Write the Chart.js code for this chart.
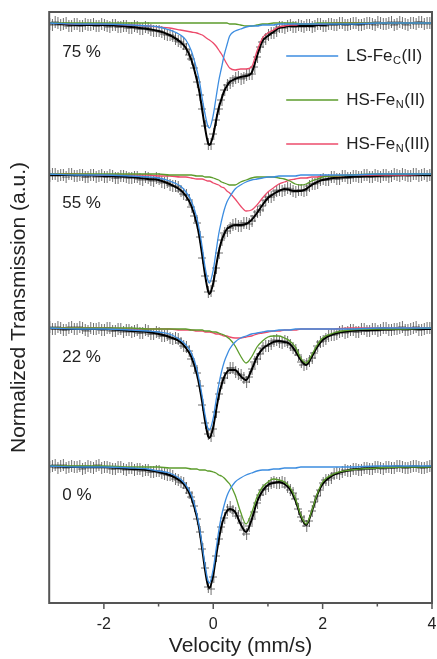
<!DOCTYPE html>
<html>
<head>
<meta charset="utf-8">
<script src="https://cdn.jsdelivr.net/npm/chart.js@4.4.1/dist/chart.umd.min.js"></script>
<style>
  html, body { margin: 0; padding: 0; background: #fff; }
  #wrap { width: 437px; height: 659px; }
</style>
</head>
<body>
<div id="wrap"><canvas id="chart" width="437" height="659"></canvas></div>
<script>
// velocity of the measured channels (mm/s)
const VEL = [-3,-2.95,-2.9,-2.85,-2.8,-2.75,-2.7,-2.65,-2.6,-2.55,-2.5,-2.45,-2.4,-2.35,-2.3,-2.25,-2.2,-2.15,-2.1,-2.05,
  -2,-1.95,-1.9,-1.85,-1.8,-1.75,-1.7,-1.65,-1.6,-1.55,-1.5,-1.45,-1.4,-1.35,-1.3,-1.25,-1.2,-1.15,-1.1,-1.05,
  -1,-0.95,-0.9,-0.85,-0.8,-0.75,-0.7,-0.65,-0.6,-0.55,-0.5,-0.45,-0.4,-0.35,-0.3,-0.25,-0.2,-0.15,-0.1,-0.05,
  0,0.05,0.1,0.15,0.2,0.25,0.3,0.35,0.4,0.45,0.5,0.55,0.6,0.65,0.7,0.75,0.8,0.85,0.9,0.95,
  1,1.05,1.1,1.15,1.2,1.25,1.3,1.35,1.4,1.45,1.5,1.55,1.6,1.65,1.7,1.75,1.8,1.85,1.9,1.95,
  2,2.05,2.1,2.15,2.2,2.25,2.3,2.35,2.4,2.45,2.5,2.55,2.6,2.65,2.7,2.75,2.8,2.85,2.9,2.95,
  3,3.05,3.1,3.15,3.2,3.25,3.3,3.35,3.4,3.45,3.5,3.55,3.6,3.65,3.7,3.75,3.8,3.85,3.9,3.95,
  4];
// velocity where the fitted curves are read
const VFIT = [-3,-2.5,-2,-1.5,-1.2,-1,-0.8,-0.6,-0.5,-0.4,-0.3,-0.25,-0.2,-0.15,-0.1,-0.07,0,0.05,0.1,0.15,
  0.2,0.25,0.3,0.4,0.5,0.6,0.7,0.8,0.9,1,1.1,1.2,1.3,1.4,1.5,1.6,1.7,1.8,1.9,2,2.2,2.5,3,3.5,4];

const MAJOR_TICKS = [-2, 0, 2, 4];
const MINOR_TICKS = [-1, 1, 3];
const SERIES_NAMES = ['LS-Fe_C(II)', 'HS-Fe_N(II)', 'HS-Fe_N(III)'];

// 75 %
const exp75 = [0.999,0.998,1.001,1.000,0.998,0.999,1.000,0.997,0.997,0.999,0.999,0.997,0.997,0.999,0.998,0.998,0.999,0.997,0.997,0.999,
  0.998,0.997,0.996,0.998,0.998,0.996,0.996,0.997,0.997,0.995,0.995,0.997,0.996,0.994,0.994,0.996,0.995,0.993,0.992,0.992,
  0.992,0.991,0.989,0.988,0.988,0.987,0.984,0.982,0.981,0.979,0.974,0.968,0.964,0.955,0.941,0.928,0.914,0.897,0.879,0.879,
  0.889,0.903,0.914,0.923,0.933,0.938,0.940,0.942,0.945,0.946,0.944,0.945,0.948,0.949,0.949,0.956,0.966,0.976,0.981,0.984,
  0.988,0.990,0.990,0.992,0.996,0.996,0.995,0.997,0.998,0.996,0.996,0.998,0.997,0.996,0.998,0.998,0.996,0.997,0.999,0.999,
  0.997,0.997,0.999,0.999,0.998,0.998,1.000,1.000,0.998,0.998,0.999,1.000,1.000,0.998,0.998,0.999,1.000,1.000,0.999,0.998,
  1.001,1.000,0.999,0.999,1.000,1.001,0.998,0.999,1.001,1.000,0.999,0.998,1.000,1.000,0.999,1.001,1.001,0.999,1.000,1.000,
  0.999];
const fit75 = [1.000,0.998,0.998,0.996,0.994,0.992,0.988,0.981,0.975,0.963,0.943,0.930,0.912,0.895,0.881,0.878,0.888,0.902,0.915,0.924,
  0.932,0.937,0.941,0.944,0.946,0.947,0.950,0.967,0.982,0.987,0.991,0.995,0.996,0.997,0.997,0.997,0.997,0.997,0.998,0.998,
  0.999,0.999,1.000,1.000,1.000];
const lsFeC75 = [1.000,0.999,0.999,0.998,0.997,0.996,0.993,0.988,0.983,0.972,0.953,0.941,0.924,0.909,0.897,0.895,0.908,0.925,0.942,0.955,
  0.968,0.978,0.987,0.992,0.994,0.996,0.997,0.997,0.998,0.998,0.998,0.999,0.999,0.999,0.999,0.999,0.999,0.999,0.999,0.999,
  0.999,0.999,1.000,1.000,1.000];
const hsFeN2_75 = [1.000,1.000,1.000,1.000,1.000,1.000,1.000,1.000,1.000,1.000,1.000,1.000,1.000,1.000,1.000,1.000,1.000,1.000,1.000,1.000,
  1.000,1.000,0.999,0.999,0.998,0.997,0.997,0.998,0.999,0.999,1.000,1.000,1.000,1.000,1.000,0.999,0.999,0.999,1.000,1.000,
  1.000,1.000,1.000,1.000,1.000];
const hsFeN3_75 = [1.000,0.999,0.999,0.998,0.997,0.996,0.995,0.993,0.992,0.991,0.990,0.989,0.988,0.986,0.984,0.983,0.980,0.977,0.973,0.969,
  0.964,0.959,0.955,0.953,0.954,0.954,0.956,0.972,0.985,0.990,0.993,0.996,0.997,0.998,0.998,0.999,0.999,0.999,0.999,0.999,
  1.000,1.000,1.000,1.000,1.000];

// 55 %
const exp55 = [0.998,1.000,1.000,0.998,0.999,0.999,0.997,1.000,1.000,0.998,0.998,0.999,0.999,0.997,0.997,0.999,0.999,0.997,0.998,0.999,
  0.997,0.997,0.999,0.998,0.996,0.996,0.998,0.998,0.997,0.996,0.996,0.997,0.997,0.995,0.994,0.997,0.996,0.994,0.993,0.996,
  0.995,0.992,0.991,0.992,0.989,0.988,0.988,0.987,0.983,0.980,0.979,0.974,0.967,0.958,0.951,0.937,0.916,0.898,0.882,0.883,
  0.893,0.906,0.921,0.934,0.941,0.943,0.946,0.949,0.950,0.948,0.948,0.951,0.951,0.950,0.953,0.958,0.962,0.964,0.968,0.974,
  0.977,0.977,0.979,0.983,0.984,0.983,0.984,0.986,0.985,0.983,0.982,0.984,0.984,0.983,0.984,0.988,0.990,0.990,0.991,0.994,
  0.995,0.994,0.994,0.997,0.997,0.995,0.995,0.998,0.998,0.996,0.996,0.998,0.998,0.997,0.997,0.999,0.999,0.997,0.997,0.999,
  0.998,0.997,0.999,0.999,0.997,0.998,1.000,0.999,0.998,1.000,0.999,0.998,0.998,1.000,1.000,0.998,0.999,1.000,0.998,0.999,
  1.000];
const fit55 = [0.999,0.999,0.998,0.997,0.995,0.994,0.990,0.984,0.978,0.968,0.950,0.936,0.918,0.899,0.884,0.880,0.891,0.907,0.922,0.933,
  0.940,0.945,0.947,0.949,0.949,0.950,0.954,0.961,0.969,0.976,0.980,0.983,0.985,0.984,0.983,0.983,0.985,0.989,0.992,0.994,
  0.996,0.997,0.998,0.999,0.999];
const lsFeC55 = [1.000,0.999,0.999,0.998,0.997,0.996,0.993,0.988,0.982,0.973,0.956,0.943,0.926,0.907,0.894,0.891,0.904,0.922,0.940,0.953,
  0.964,0.972,0.977,0.985,0.989,0.992,0.994,0.995,0.996,0.997,0.997,0.998,0.998,0.998,0.998,0.999,0.999,0.999,0.999,0.999,
  0.999,0.999,1.000,1.000,1.000];
const hsFeN2_55 = [1.000,1.000,1.000,1.000,1.000,1.000,0.999,0.999,0.999,0.999,0.998,0.998,0.998,0.997,0.997,0.997,0.996,0.995,0.994,0.992,
  0.991,0.990,0.989,0.989,0.992,0.994,0.996,0.997,0.997,0.997,0.997,0.996,0.995,0.993,0.990,0.989,0.990,0.993,0.995,0.997,
  0.998,0.999,1.000,1.000,1.000];
const hsFeN3_55 = [1.000,1.000,0.999,0.999,0.999,0.998,0.998,0.997,0.997,0.996,0.995,0.995,0.995,0.994,0.993,0.993,0.991,0.990,0.989,0.987,
  0.986,0.983,0.981,0.975,0.968,0.963,0.964,0.969,0.976,0.982,0.986,0.990,0.992,0.994,0.995,0.996,0.996,0.997,0.997,0.998,
  0.998,0.999,0.999,0.999,1.000];

// 22 %
const exp22 = [1.001,0.999,0.999,1.001,1.000,0.998,0.998,1.000,1.001,0.999,0.999,1.001,1.000,0.998,0.997,1.000,0.999,0.999,1.000,0.998,
  0.998,1.000,1.000,0.997,0.997,0.999,0.999,0.996,0.998,0.998,0.996,0.997,0.998,0.995,0.995,0.998,0.997,0.994,0.994,0.996,
  0.995,0.992,0.992,0.993,0.990,0.989,0.990,0.989,0.985,0.982,0.981,0.977,0.969,0.962,0.955,0.942,0.923,0.905,0.894,0.892,
  0.899,0.916,0.934,0.945,0.950,0.955,0.960,0.960,0.956,0.954,0.953,0.950,0.946,0.951,0.959,0.966,0.969,0.974,0.980,0.982,
  0.982,0.984,0.987,0.988,0.986,0.985,0.987,0.986,0.983,0.980,0.978,0.973,0.966,0.963,0.964,0.967,0.970,0.975,0.982,0.986,
  0.987,0.989,0.992,0.993,0.993,0.994,0.996,0.997,0.995,0.996,0.998,0.998,0.996,0.996,0.999,0.999,0.997,0.997,0.999,0.999,
  0.997,0.998,1.000,1.000,0.998,0.998,0.999,0.999,1.000,1.001,0.998,0.998,0.999,1.000,1.001,0.998,0.998,0.999,1.000,1.000,
  0.999];
const fit22 = [1.000,0.999,0.999,0.997,0.996,0.994,0.991,0.986,0.980,0.971,0.954,0.941,0.925,0.907,0.893,0.890,0.901,0.917,0.932,0.943,
  0.951,0.956,0.958,0.958,0.952,0.948,0.958,0.971,0.979,0.983,0.986,0.987,0.986,0.984,0.977,0.968,0.963,0.971,0.981,0.988,
  0.994,0.997,0.998,0.999,0.999];
const lsFeC22 = [1.000,0.999,0.999,0.998,0.997,0.996,0.994,0.988,0.983,0.975,0.959,0.946,0.931,0.913,0.900,0.898,0.910,0.927,0.943,0.956,
  0.966,0.973,0.979,0.986,0.990,0.992,0.994,0.995,0.996,0.997,0.997,0.998,0.998,0.998,0.999,0.999,0.999,0.999,0.999,0.999,
  0.999,0.999,1.000,1.000,1.000];
const hsFeN2_22 = [1.000,1.000,1.000,1.000,0.999,0.999,0.999,0.999,0.999,0.998,0.998,0.998,0.998,0.997,0.997,0.997,0.996,0.996,0.995,0.994,
  0.993,0.991,0.989,0.982,0.972,0.965,0.971,0.981,0.987,0.991,0.992,0.992,0.990,0.987,0.981,0.970,0.965,0.973,0.983,0.990,
  0.995,0.998,0.999,0.999,1.000];
const hsFeN3_22 = [1.000,1.000,1.000,0.999,0.999,0.999,0.999,0.998,0.998,0.998,0.997,0.997,0.997,0.996,0.996,0.996,0.995,0.994,0.994,0.993,
  0.992,0.992,0.991,0.990,0.990,0.991,0.992,0.994,0.995,0.996,0.997,0.997,0.998,0.998,0.998,0.999,0.999,0.999,0.999,0.999,
  0.999,1.000,1.000,1.000,1.000];

// 0 %
const exp0 = [0.999,1.000,1.001,0.998,1.000,1.001,0.998,0.999,1.000,0.999,0.999,1.000,0.997,0.998,1.000,0.999,0.998,1.000,1.001,0.998,
  0.999,0.999,0.998,0.997,0.997,0.999,0.999,0.997,0.996,0.998,0.998,0.996,0.997,0.997,0.995,0.996,0.996,0.994,0.994,0.995,
  0.995,0.993,0.992,0.991,0.991,0.990,0.987,0.986,0.984,0.983,0.978,0.973,0.969,0.960,0.947,0.934,0.917,0.898,0.879,0.877,
  0.889,0.910,0.927,0.939,0.948,0.956,0.959,0.955,0.953,0.950,0.943,0.936,0.932,0.940,0.947,0.954,0.963,0.971,0.976,0.977,
  0.980,0.983,0.984,0.983,0.983,0.984,0.983,0.979,0.976,0.973,0.967,0.957,0.949,0.945,0.940,0.945,0.955,0.964,0.970,0.976,
  0.983,0.986,0.986,0.988,0.992,0.993,0.992,0.994,0.996,0.995,0.995,0.997,0.997,0.996,0.996,0.998,0.998,0.997,0.997,0.999,
  0.999,0.998,0.997,0.999,0.999,0.998,0.998,1.000,1.000,0.999,0.998,0.998,0.999,1.000,1.000,0.999,0.998,0.998,0.999,1.000,
  0.999];
const fit0 = [1.000,0.999,0.999,0.997,0.996,0.994,0.991,0.985,0.979,0.968,0.949,0.935,0.916,0.896,0.881,0.878,0.891,0.909,0.926,0.940,
  0.949,0.955,0.957,0.954,0.942,0.934,0.946,0.964,0.975,0.981,0.983,0.984,0.982,0.977,0.966,0.950,0.941,0.954,0.971,0.982,
  0.991,0.996,0.998,0.999,0.999];
const lsFeC0 = [1.000,0.999,0.999,0.998,0.997,0.995,0.993,0.987,0.981,0.971,0.952,0.938,0.920,0.901,0.886,0.883,0.897,0.916,0.935,0.950,
  0.961,0.970,0.976,0.984,0.988,0.991,0.993,0.995,0.996,0.996,0.997,0.997,0.998,0.998,0.998,0.999,0.999,0.999,0.999,0.999,
  0.999,0.999,1.000,1.000,1.000];
const hsFeN2_0 = [1.000,1.000,1.000,0.999,0.999,0.999,0.998,0.998,0.998,0.997,0.997,0.996,0.996,0.996,0.995,0.995,0.994,0.993,0.991,0.990,
  0.988,0.985,0.982,0.971,0.954,0.942,0.953,0.969,0.979,0.984,0.987,0.986,0.984,0.979,0.968,0.951,0.942,0.955,0.972,0.984,
  0.992,0.996,0.998,0.999,0.999];

const COLORS = { ls: '#3d8de0', hs2: '#5c9c2c', hs3: '#ec4b6b' };

// vertical stacking of the four spectra
const panels = [
  { label: '75 %', shift: 0,      exp: exp75, fit: fit75, comps: [lsFeC75, hsFeN2_75, hsFeN3_75] },
  { label: '55 %', shift: -0.151, exp: exp55, fit: fit55, comps: [lsFeC55, hsFeN2_55, hsFeN3_55] },
  { label: '22 %', shift: -0.305, exp: exp22, fit: fit22, comps: [lsFeC22, hsFeN2_22, hsFeN3_22] },
  { label: '0 %',  shift: -0.443, exp: exp0,  fit: fit0,  comps: [lsFeC0, hsFeN2_0, null] }
];

// "+" with error bar for measured points
function plusMarker() {
  const c = document.createElement('canvas');
  c.width = 8; c.height = 12;
  const g = c.getContext('2d');
  g.strokeStyle = 'rgba(50,50,50,0.7)';
  g.lineWidth = 1;
  g.beginPath();
  g.moveTo(0, 6); g.lineTo(8, 6);
  g.moveTo(4.5, 0); g.lineTo(4.5, 12);
  g.stroke();
  return c;
}
const marker = plusMarker();

const toPts = (xs, ys, shift) => xs.map((v, i) => ({ x: v, y: ys[i] - 1 + shift }));
const compColors = [COLORS.ls, COLORS.hs2, COLORS.hs3];

const datasets = [];
panels.forEach(p => {
  datasets.push({
    data: toPts(VEL, p.exp, p.shift), showLine: false,
    pointStyle: marker, pointRadius: 3, order: 3
  });
  datasets.push({
    data: toPts(VFIT, p.fit, p.shift), borderColor: '#000', borderWidth: 2,
    pointRadius: 0, cubicInterpolationMode: 'monotone', order: 2
  });
  p.comps.forEach((c, k) => {
    if (!c) return;
    datasets.push({
      data: toPts(VFIT, c, p.shift), borderColor: compColors[k], borderWidth: 1.3,
      pointRadius: 0, cubicInterpolationMode: 'monotone', order: 1
    });
  });
});

const FONT = 'Liberation Sans, Arial, sans-serif';
Chart.defaults.font.family = FONT;
Chart.defaults.color = '#222';

function drawSubText(ctx, x, y, text) {
  // text like 'LS-Fe_C(II)': one subscript letter after "_"
  const [head, rest] = text.split('_');
  ctx.font = '17px ' + FONT;
  ctx.fillText(head, x, y);
  x += ctx.measureText(head).width;
  ctx.font = '11px ' + FONT;
  ctx.fillText(rest[0], x + 0.5, y + 5);
  x += ctx.measureText(rest[0]).width + 1;
  ctx.font = '17px ' + FONT;
  ctx.fillText(rest.slice(1), x, y);
}

const decor = {
  id: 'decor',
  afterDraw(chart) {
    const { ctx, chartArea: a, scales: { x, y } } = chart;
    ctx.save();
    ctx.strokeStyle = '#555';
    ctx.lineWidth = 2;
    ctx.strokeRect(a.left, a.top, a.right - a.left, a.bottom - a.top);
    ctx.lineWidth = 1.5;
    ctx.beginPath();
    MAJOR_TICKS.forEach(v => { const px = x.getPixelForValue(v); ctx.moveTo(px, a.bottom); ctx.lineTo(px, a.bottom + 6); });
    MINOR_TICKS.forEach(v => { const px = x.getPixelForValue(v); ctx.moveTo(px, a.bottom); ctx.lineTo(px, a.bottom + 3.5); });
    ctx.stroke();

    // sample labels
    ctx.fillStyle = '#222';
    ctx.textBaseline = 'middle';
    ctx.font = '17px ' + FONT;
    panels.forEach(p => ctx.fillText(p.label, a.left + 13, y.getPixelForValue(p.shift) + 29));

    // legend
    SERIES_NAMES.forEach((name, k) => {
      const ly = a.top + 44 + k * 44;
      ctx.strokeStyle = compColors[k];
      ctx.lineWidth = 1.5;
      ctx.beginPath();
      ctx.moveTo(a.left + 237, ly); ctx.lineTo(a.left + 289, ly);
      ctx.stroke();
      drawSubText(ctx, a.left + 297, ly, name);
    });
    ctx.restore();
  }
};

new Chart(document.getElementById('chart'), {
  type: 'line',
  data: { datasets },
  options: {
    responsive: false,
    animation: false,
    events: [],
    layout: { padding: { left: 2, right: 4, top: 12, bottom: 0 } },
    plugins: { legend: { display: false }, tooltip: { enabled: false } },
    scales: {
      x: {
        type: 'linear', min: -3, max: 4,
        afterBuildTicks: s => { s.ticks = MAJOR_TICKS.map(v => ({ value: v })); },
        afterFit: s => { s.height = 56; s.paddingLeft = 0; s.paddingRight = 0; },
        grid: { display: false, drawTicks: false },
        border: { display: false },
        ticks: { padding: 12, font: { size: 16 }, color: '#222', autoSkip: false, maxRotation: 0 },
        title: { display: true, text: 'Velocity (mm/s)', font: { size: 21 }, color: '#222', padding: { top: 1, bottom: 0 } }
      },
      y: {
        type: 'linear', min: -0.580, max: 0.011,
        grid: { display: false, drawTicks: false },
        border: { display: false },
        ticks: { display: false },
        title: { display: true, text: 'Normalized Transmission (a.u.)', font: { size: 21 }, color: '#222', padding: { top: 5, bottom: 17 } }
      }
    }
  },
  plugins: [decor]
});
</script>
</body>
</html>
